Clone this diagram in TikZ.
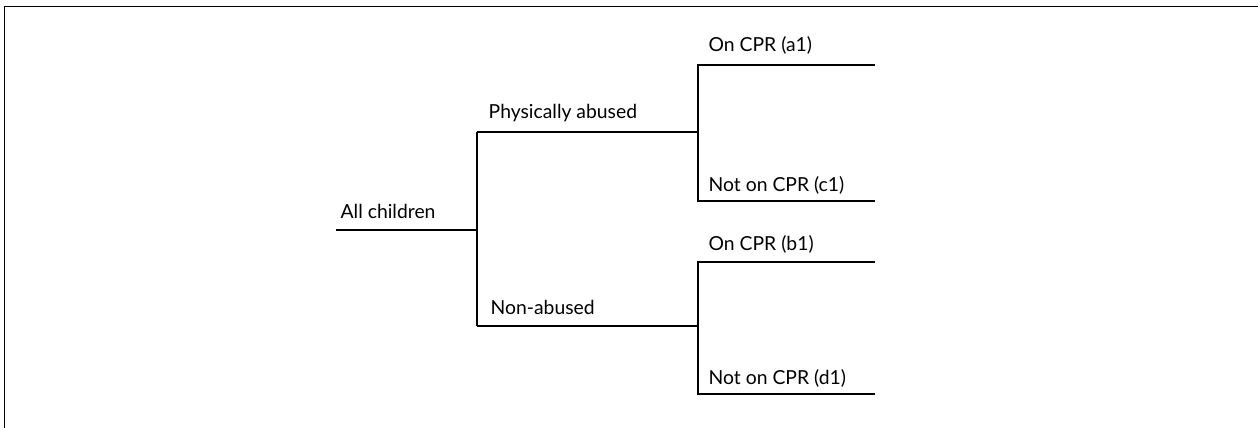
\documentclass[tikz,border=0pt]{standalone}
\usepackage{fontspec}
\setmainfont{Lato}
\begin{document}
\begin{tikzpicture}[x=0.75pt,y=-0.75pt,line width=1pt,
  lbl/.style={anchor=base west,inner sep=0pt,font=\fontsize{14.5}{17}\selectfont}]
\useasboundingbox (0,0) rectangle (1258,428);
% frame, top and left only
\draw[line width=1.1pt] (4.5,428) -- (4.5,6.5) -- (1258,6.5);
% tree points
\coordinate (root) at (336,230);
\coordinate (fork) at (477,230);
\coordinate (phys) at (477,132);
\coordinate (non) at (477,326);
\coordinate (physfork) at (698,132);
\coordinate (nonfork) at (698,326);
\draw (root) -- (fork);
\draw (phys) -- (non);
\draw (phys) -- (physfork);
\draw (non) -- (nonfork);
\node[lbl] (alllbl) at (340,219) {All children};
\node[lbl] (physlbl) at (488,119) {Physically abused};
\node[lbl] (nonlbl) at (490,314) {Non-abused};
% leaves
\foreach \leaf/\fk/\y/\gap/\txt in {a/physfork/65/13/On CPR (a1),c/physfork/201/10/Not on CPR (c1),
  b/nonfork/262/12/On CPR (b1),d/nonfork/394/10/Not on CPR (d1)}{
  \coordinate (\leaf start) at (698,\y);
  \coordinate (\leaf end) at (875,\y);
  \draw (\fk) -- (\leaf start) -- (\leaf end);
  \node[lbl] (\leaf lbl) at ([xshift=10*0.75pt,yshift=\gap*0.75pt]\leaf start) {\txt};
}
\end{tikzpicture}
\end{document}
